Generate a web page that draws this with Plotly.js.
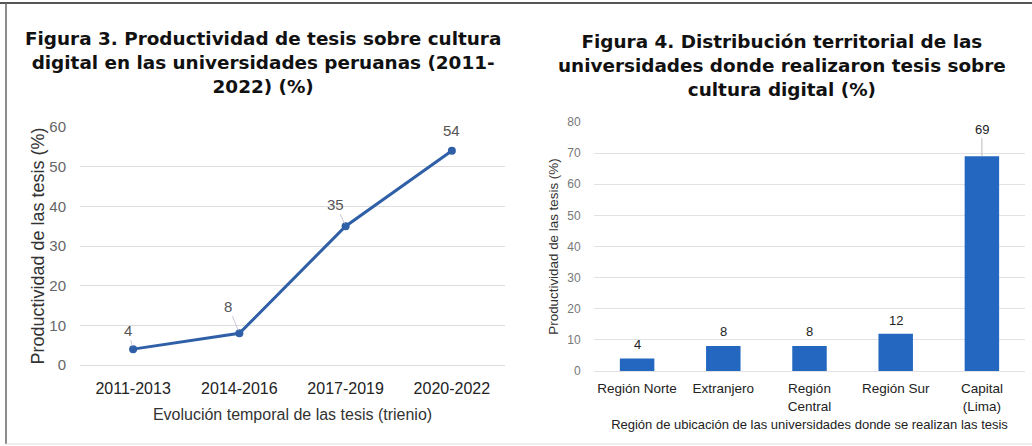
<!DOCTYPE html>
<html>
<head>
<meta charset="utf-8">
<script src="https://cdn.plot.ly/plotly-3.0.1.min.js"></script>
<style>
html,body{margin:0;padding:0;background:#fff;}
#chart{width:1032px;height:446px;}
</style>
</head>
<body>
<div id="chart"></div>
<script>
// ---- data ----
const trienios = ["2011-2013", "2014-2016", "2017-2019", "2020-2022"];
const productividad = [4, 8, 35, 54];

const regiones = ["Región Norte", "Extranjero", "Región<br>Central", "Región Sur", "Capital<br>(Lima)"];
const distribucion = [4, 8, 8, 12, 69];

const titulo3 = "Figura 3. Productividad de tesis sobre cultura<br>digital en las universidades peruanas (2011-<br>2022) (%)";
const titulo4 = "Figura 4. Distribución territorial de las<br>universidades donde realizaron tesis sobre<br>cultura digital (%)";
const yTitulo = "Productividad de las tesis (%)";
const xTitulo3 = "Evolución temporal de las tesis (trienio)";
const xTitulo4 = "Región de ubicación de las universidades donde se realizan las tesis";

// label offsets (pixels) for the point labels
const lineLabelOffsets = [[-5, -19], [-11, -27], [-10, -22], [0, -20]];
const barLabelOffsets = [-14, -15, -15, -13, -27];

const W = 1032, H = 446;
const FONT = "Liberation Sans, Arial, sans-serif";
const TFONT = "DejaVu Sans, Liberation Sans, Arial, sans-serif";
const BLUE_LINE = "#2f5fa6";
const BLUE_BAR = "#2467c0";

const traces = [
  {
    type: "scatter", mode: "lines+markers",
    x: trienios, y: productividad,
    xaxis: "x", yaxis: "y",
    line: {color: BLUE_LINE, width: 3},
    marker: {color: BLUE_LINE, size: 8},
    hoverinfo: "x+y"
  },
  {
    type: "bar",
    x: regiones, y: distribucion,
    xaxis: "x2", yaxis: "y2",
    marker: {color: BLUE_BAR},
    hoverinfo: "x+y"
  }
];

const annotations = [
  {text: "<b>" + titulo3 + "</b>", xref: "paper", yref: "paper", x: 263 / W, y: 1 - 63 / H,
   xanchor: "center", yanchor: "middle", showarrow: false, align: "center",
   font: {family: TFONT, size: 18.4, color: "#111"}},
  {text: "<b>" + titulo4 + "</b>", xref: "paper", yref: "paper", x: 782 / W, y: 1 - 66 / H,
   xanchor: "center", yanchor: "middle", showarrow: false, align: "center",
   font: {family: TFONT, size: 18.4, color: "#111"}}
];

trienios.forEach((t, i) => {
  annotations.push({
    x: t, y: productividad[i], xref: "x", yref: "y",
    text: String(productividad[i]),
    showarrow: true, arrowhead: 0, arrowwidth: 1, arrowcolor: i === 3 ? "rgba(0,0,0,0)" : "#cfc4d8",
    ax: lineLabelOffsets[i][0], ay: lineLabelOffsets[i][1], standoff: 3,
    font: {family: FONT, size: 15, color: "#555"}
  });
});

regiones.forEach((r, i) => {
  annotations.push({
    x: r, y: distribucion[i], xref: "x2", yref: "y2",
    text: String(distribucion[i]),
    showarrow: true, arrowhead: 0, arrowwidth: 1,
    arrowcolor: i === 4 ? "#bbb" : "rgba(0,0,0,0)",
    ax: 0, ay: barLabelOffsets[i], standoff: 0,
    font: {family: FONT, size: 13, color: "#222"}
  });
});

const layout = {
  width: W, height: H,
  margin: {l: 0, r: 0, t: 0, b: 0},
  paper_bgcolor: "#fff", plot_bgcolor: "rgba(0,0,0,0)",
  showlegend: false,
  font: {family: FONT},
  xaxis: {
    domain: [80 / W, 505 / W], type: "category", anchor: "y",
    range: [-0.5, trienios.length - 0.5],
    showgrid: false, zeroline: false, showline: false,
    ticks: "outside", ticklen: 9, tickcolor: "rgba(0,0,0,0)",
    tickfont: {family: FONT, size: 16, color: "#222"},
    title: {text: xTitulo3, font: {family: FONT, size: 16, color: "#333"}, standoff: 12},
    automargin: false, fixedrange: true
  },
  yaxis: {
    domain: [1 - 365 / H, 1 - 127 / H], range: [0, 60], dtick: 10, anchor: "x",
    showgrid: true, gridcolor: "#dcdcdc", gridwidth: 1,
    zeroline: true, zerolinecolor: "#dcdcdc", zerolinewidth: 1, showline: false,
    ticks: "outside", ticklen: 10, tickcolor: "rgba(0,0,0,0)",
    tickfont: {family: FONT, size: 15, color: "#666"},
    title: {text: yTitulo, font: {family: FONT, size: 18, color: "#333"}, standoff: 0},
    automargin: false, fixedrange: true
  },
  xaxis2: {
    domain: [594 / W, 1025 / W], type: "category", anchor: "y2",
    showgrid: false, zeroline: false, showline: false,
    ticks: "outside", ticklen: 5, tickcolor: "rgba(0,0,0,0)",
    tickfont: {family: FONT, size: 13.5, color: "#222"},
    title: {text: xTitulo4, font: {family: FONT, size: 13, color: "#222"}, standoff: 7},
    automargin: false, fixedrange: true
  },
  yaxis2: {
    domain: [1 - 371 / H, 1 - 122 / H], range: [0, 80], dtick: 10, anchor: "x2",
    showgrid: true, gridcolor: "#e2e2e2", gridwidth: 1,
    zeroline: true, zerolinecolor: "#e2e2e2", zerolinewidth: 1, showline: false,
    ticks: "outside", ticklen: 10, tickcolor: "rgba(0,0,0,0)",
    tickfont: {family: FONT, size: 12, color: "#777"},
    title: {text: yTitulo, font: {family: FONT, size: 13.4, color: "#333"}, standoff: 5},
    automargin: false, fixedrange: true
  },
  bargap: 0.6,
  annotations: annotations,
  shapes: [
    {type: "line", xref: "paper", yref: "paper", x0: 0, x1: 1, y0: 1 - 3 / H, y1: 1 - 3 / H,
     line: {color: "#555", width: 2}},
    {type: "line", xref: "paper", yref: "paper", x0: 6 / W, x1: 6 / W, y0: 2 / H, y1: 1 - 3 / H,
     line: {color: "#666", width: 1.5}},
    {type: "line", xref: "paper", yref: "paper", x0: 6 / W, x1: 1, y0: 2 / H, y1: 2 / H,
     line: {color: "#ddd", width: 1}}
  ]
};

Plotly.newPlot("chart", traces, layout, {displayModeBar: false, staticPlot: true});
</script>
</body>
</html>
